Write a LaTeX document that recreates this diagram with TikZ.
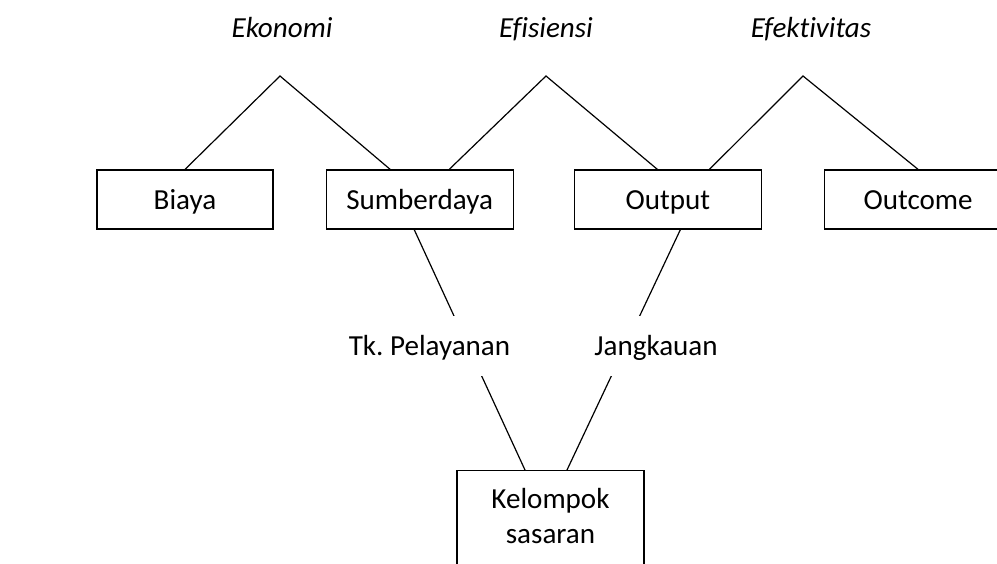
\documentclass[tikz,border=0pt]{standalone}
\usepackage{fontspec}
\setmainfont{Carlito}[Ligatures=CommonOff]
\frenchspacing
\usetikzlibrary{positioning,calc}

\tikzset{
  huruf/.style={font=\fontsize{21.8}{26.25}\selectfont},
  kotak/.style={draw,line width=0.9pt,minimum width=140.25pt,inner sep=0pt,huruf,
    text height=29.25pt,text depth=15pt},
  ukuran/.style={font=\fontsize{21.8}{26.25}\selectfont\itshape,anchor=base},
  ket/.style={fill=white,inner xsep=12pt,inner ysep=0pt,huruf,
    text height=29.25pt,text depth=15.75pt},
  garis/.style={line width=0.9pt}
}

\begin{document}
\begin{tikzpicture}[x=0.75pt,y=-0.75pt]
      \useasboundingbox (0,0) rectangle (997,564);
      \clip (0,0) rectangle (997,564);

      % baris kotak
      \node[kotak,minimum width=132pt] (biaya) at (185,199.5) {Biaya};
      \node[kotak] (sdm) [right=39pt of biaya] {Sumberdaya};
      \node[kotak] (output) [right=45pt of sdm] {Output};
      \node[kotak] (outcome) [right=46.5pt of output] {Outcome};
      \node[kotak,anchor=north,text height=28.5pt,text depth=80pt] (sasaran) at (550.5,470) {
        \begin{tabular}[t]{@{}c@{}}
          Kelompok\\
          sasaran
        \end{tabular}
      };

      % puncak
      \coordinate (eko) at (280,76);
      \coordinate (efi) at (546,76);
      \coordinate (efk) at (803,76);
      \node[ukuran] (t_eko) at (282,37) {Ekonomi};
      \node[ukuran] (t_efi) at (546,37) {Efisiensi};
      \node[ukuran] (t_efk) at (811,37) {Efektivitas};

      \draw[garis] (biaya.north) -- (eko) -- ($(sdm.north)+(-29.5,0)$);
      \draw[garis] ($(sdm.north)+(29.5,0)$) -- (efi) -- ($(output.north)+(-10.5,0)$);
      \draw[garis] ($(output.north)+(41.5,0)$) -- (efk) -- (outcome.north);

      % ke kelompok sasaran
      \draw[garis] ($(sdm.south)+(-5.5,0)$) -- ($(sasaran.north)+(-25.5,0)$);
      \draw[garis] ($(output.south)+(12.5,0)$) -- ($(sasaran.north)+(16.5,0)$);
      \node[ket] (tk) at (429.5,346) {Tk. Pelayanan};
      \node[ket] (jangkau) at (656,346) {Jangkauan};
\end{tikzpicture}
\end{document}
